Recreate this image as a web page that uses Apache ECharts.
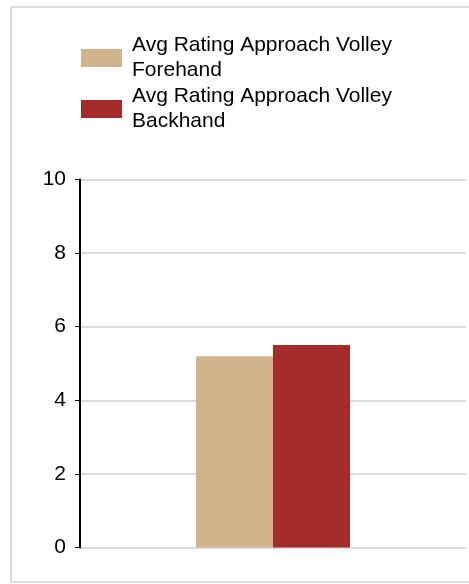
<!DOCTYPE html>
<html><head><meta charset="utf-8">
<script src="https://cdn.jsdelivr.net/npm/echarts@6/dist/echarts.min.js"></script>
<style>html,body{margin:0;padding:0;background:#fff}#c{width:469px;height:584px}</style>
</head><body><div id="c"></div>
<script>
const categories = [''];
const seriesNames = ['Avg Rating Approach Volley\nForehand', 'Avg Rating Approach Volley\nBackhand'];
const forehand = [5.2];
const backhand = [5.5];
const yTicks = [0, 2, 4, 6, 8, 10];
const colors = ['#D2B48C', '#A52A2A'];

const chart = echarts.init(document.getElementById('c'), null, {renderer: 'canvas'});
chart.setOption({
  animation: false,
  color: colors,
  graphic: [{
    type: 'rect', shape: {x: 11, y: 7, width: 480, height: 575},
    style: {fill: 'none', stroke: '#dcdcdc', lineWidth: 2}, z: -1
  }],
  legend: {
    orient: 'vertical', left: 81, top: 33, padding: 0, itemWidth: 41, itemHeight: 18, itemGap: 1,
    icon: 'rect',
    textStyle: {fontFamily: 'Liberation Sans, Arial', fontSize: 21, lineHeight: 25, color: '#000', padding: [0,0,0,5]},
    data: seriesNames
  },
  grid: {left: 80, right: 3, top: 179.5, bottom: 36.5, containLabel: false},
  xAxis: {
    type: 'category', data: categories,
    axisLine: {show: false}, axisTick: {show: false}, axisLabel: {show: false}
  },
  yAxis: {
    type: 'value', min: yTicks[0], max: yTicks[yTicks.length-1], interval: 2,
    axisLine: {show: true, lineStyle: {color: '#000', width: 2}},
    axisTick: {show: true, length: 5, lineStyle: {color: '#000', width: 1}},
    axisLabel: {fontFamily: 'Liberation Sans, Arial', fontSize: 21, color: '#000', margin: 14},
    splitLine: {show: true, lineStyle: {color: '#dcdcdc', width: 2}}
  },
  series: [
    {name: seriesNames[0], type: 'bar', data: forehand, barWidth: 77, barGap: '0%', itemStyle: {color: colors[0]}},
    {name: seriesNames[1], type: 'bar', data: backhand, barWidth: 77, barGap: '0%', itemStyle: {color: colors[1]}}
  ]
});
</script></body></html>
